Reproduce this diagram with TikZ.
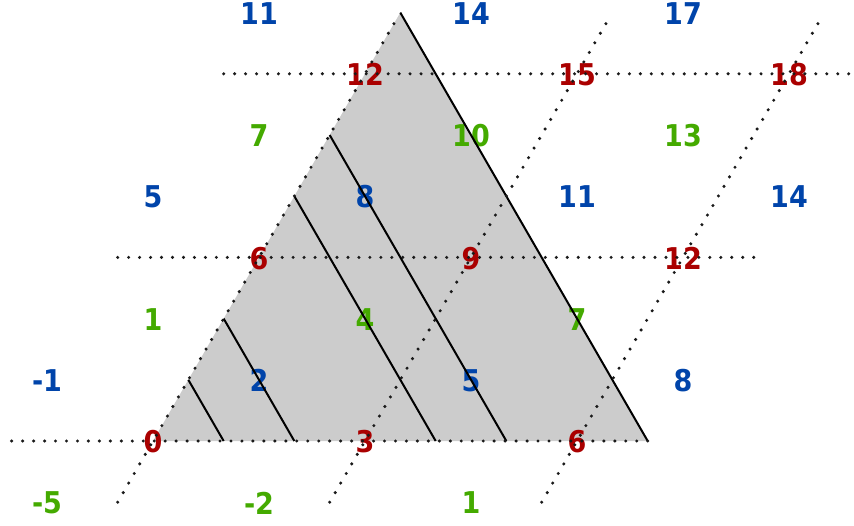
\documentclass[tikz,border=0pt]{standalone}
\usepackage{fontspec}
\setmainfont{DejaVu Sans Condensed}
\usetikzlibrary{calc}
\definecolor{nblue}{HTML}{0044AA}
\definecolor{nred}{HTML}{AA0000}
\definecolor{ngreen}{HTML}{44AA00}
\definecolor{trifill}{HTML}{CCCCCC}
\definecolor{dotc}{HTML}{1A1A1A}
\begin{document}
\begin{tikzpicture}[x=1pt,y=-1pt,
  num/.style={font=\fontsize{30}{36}\selectfont\bfseries, inner sep=0pt},
  dotmark/.style={fill=dotc},
  solidline/.style={black, line width=2pt}]
\useasboundingbox (0,0) rectangle (854,525);
% triangle
\coordinate (A) at (153,441);
\coordinate (B) at (647.7,441);
\coordinate (C) at (400.3,12.6);
\fill[trifill] (A) -- (B) -- (C) -- cycle;
% numbers
\foreach \k/\m/\t/\c [count=\i] in {
  1/7/11/nblue, 3/7/14/nblue, 5/7/17/nblue,
  2/6/12/nred, 4/6/15/nred, 6/6/18/nred,
  1/5/7/ngreen, 3/5/10/ngreen, 5/5/13/ngreen,
  0/4/5/nblue, 2/4/8/nblue, 4/4/11/nblue, 6/4/14/nblue,
  1/3/6/nred, 3/3/9/nred, 5/3/12/nred,
  0/2/1/ngreen, 2/2/4/ngreen, 4/2/7/ngreen,
  -1/1/-1/nblue, 1/1/2/nblue, 3/1/5/nblue, 5/1/8/nblue,
  0/0/0/nred, 2/0/3/nred, 4/0/6/nred,
  -1/-1/-5/ngreen, 1/-1/-2/ngreen, 3/-1/1/ngreen}
  \node[num, text=\c] (n\i) at ({153+106*\k},{441-61.2*\m+0.8}) {\t};
% solid lines inside triangle
\draw[solidline] (B) -- (C);
\foreach \j in {1,2,4,5} {
  \coordinate (b\j) at ({153+70.67*\j},441);
  \coordinate (l\j) at ({153+35.335*\j},{441-61.2*\j});
  \draw[solidline] (b\j) -- (l\j);
}
% dotted horizontal lines
\foreach \j in {0,1,2} {
  \coordinate (hs\j) at ({153+106*\j-141.33},{441-183.6*\j});
  \coordinate (he\j) at ({153+106*\j+494.7},{441-183.6*\j});
  \foreach \s in {0,...,58}
    \fill[dotmark] ($(hs\j)!\s/58!(he\j)$) circle (1.7);
}
% dotted slanted lines
\foreach \j in {0,1,2} {
  \coordinate (ss\j) at ({153+212*\j-35.33},502.2);
  \coordinate (se\j) at ({153+212*\j+247.3},12.6);
  \foreach \s in {0,...,50}
    \fill[dotmark] ($(ss\j)!\s*11.05/565.3!(se\j)$) circle (1.7);
}
\end{tikzpicture}
\end{document}
